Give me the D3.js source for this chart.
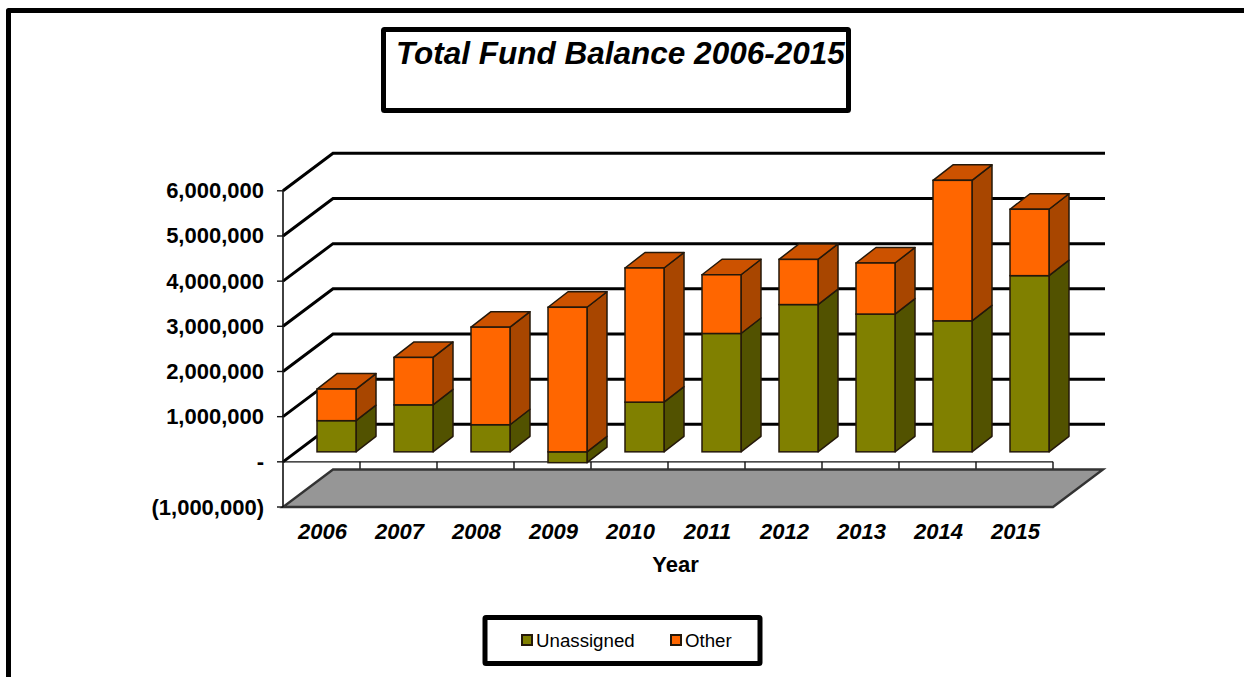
<!DOCTYPE html>
<html>
<head>
<meta charset="utf-8">
<script src="https://cdn.jsdelivr.net/npm/d3@7/dist/d3.min.js"></script>
<style>
  html, body { margin: 0; padding: 0; background: #fff; }
  svg { display: block; }
  text { font-family: "Liberation Sans", Arial, sans-serif; fill: #000; }
</style>
</head>
<body>
<svg id="chart" width="1244" height="677"></svg>
<script>
// Fund balance by year, in dollars
const years = ["2006","2007","2008","2009","2010","2011","2012","2013","2014","2015"];
const unassigned = [690000,1040000,600000,-240000,1100000,2620000,3260000,3050000,2900000,3900000];
const other = [700000,1050000,2160000,3200000,2970000,1300000,1000000,1130000,3110000,1470000];
const yTicks = [-1000000,0,1000000,2000000,3000000,4000000,5000000,6000000];
const seriesNames = ["Unassigned","Other"];
const titleText = "Total Fund Balance 2006-2015";
const xTitle = "Year";

const svg = d3.select("#chart");

// Front plane of the 3-D box
const x = d3.scaleBand().domain(years).range([283, 1053]);
const y = d3.scaleLinear().domain([-1000000, 6000000]).range([507, 190.8]);

// Box depth, bar plane offset inside the box, and depth of each bar
const wall = { dx: 50, dy: -37.5 };
const barPlane = { dx: 15, dy: -10 };
const barDepth = { dx: 20, dy: -15.5 };
const barWidth = 39;

const palette = {
  Unassigned: { front: "#808000", side: "#525200", top: "#666600" },
  Other: { front: "#FF6600", side: "#A84600", top: "#CC5200" }
};

const poly = pts => pts.map(p => p.join(",")).join(" ");

// Outer frame: only the top and left edges fall inside the page
svg.append("path")
  .attr("d", d3.line()([[8.5, 677], [8.5, 10.5], [1244, 10.5]]))
  .attr("fill", "none").attr("stroke", "#000").attr("stroke-width", 5)
  .attr("stroke-linejoin", "round");

// Title box
svg.append("rect").attr("x", 383.5).attr("y", 29.5).attr("width", 465).attr("height", 81)
  .attr("rx", 1).attr("fill", "#fff").attr("stroke", "#000").attr("stroke-width", 5);
svg.append("text").attr("x", 396).attr("y", 64)
  .attr("font-size", 31.5).attr("font-weight", "bold").attr("font-style", "italic")
  .text(titleText);

// Grey floor at the bottom of the value range
const floorY = y(-1000000);
svg.append("polygon")
  .attr("points", poly([
    [x.range()[0], floorY],
    [x.range()[1], floorY],
    [x.range()[1] + wall.dx, floorY + wall.dy],
    [x.range()[0] + wall.dx, floorY + wall.dy]
  ]))
  .attr("fill", "#969696").attr("stroke", "#333").attr("stroke-width", 2.4);

// Gridlines on the back wall and their diagonals on the side wall
const gridTicks = yTicks.filter(d => d >= 0);
svg.append("g").selectAll("path").data(gridTicks).join("path")
  .attr("d", d => d3.line()([
    [x.range()[0], y(d)],
    [x.range()[0] + wall.dx, y(d) + wall.dy],
    [x.range()[1] + wall.dx + 2, y(d) + wall.dy]
  ]))
  .attr("fill", "none").attr("stroke", "#000").attr("stroke-width", 3);

// Value axis
svg.append("line")
  .attr("x1", x.range()[0]).attr("x2", x.range()[0])
  .attr("y1", y(6000000)).attr("y2", y(-1000000))
  .attr("stroke", "#111").attr("stroke-width", 1.6);
svg.append("g").selectAll("line").data(yTicks).join("line")
  .attr("x1", x.range()[0] - 6).attr("x2", x.range()[0])
  .attr("y1", d => y(d)).attr("y2", d => y(d))
  .attr("stroke", "#111").attr("stroke-width", 1.4);

const fmt = d => d === 0 ? "-" : d < 0 ? "(" + d3.format(",")(-d) + ")" : d3.format(",")(d);
svg.append("g").selectAll("text").data(yTicks).join("text")
  .attr("x", 264).attr("y", d => y(d) + 7.5)
  .attr("text-anchor", "end")
  .attr("font-size", 22).attr("font-weight", "bold")
  .text(fmt);

// Category axis along the zero line
svg.append("line")
  .attr("x1", x.range()[0]).attr("x2", x.range()[1])
  .attr("y1", y(0)).attr("y2", y(0))
  .attr("stroke", "#111").attr("stroke-width", 1.4);
svg.append("g").selectAll("line").data(years).join("line")
  .attr("x1", d => x(d) + x.bandwidth()).attr("x2", d => x(d) + x.bandwidth())
  .attr("y1", y(0)).attr("y2", y(0) + 7)
  .attr("stroke", "#111").attr("stroke-width", 1.4);

svg.append("g").selectAll("text").data(years).join("text")
  .attr("x", d => x(d) + x.bandwidth() / 2 + 1)
  .attr("y", 539)
  .attr("text-anchor", "middle")
  .attr("font-size", 22).attr("font-weight", "bold").attr("font-style", "italic")
  .text(d => d);
svg.append("text").attr("x", 675.5).attr("y", 572).attr("text-anchor", "middle")
  .attr("font-size", 22).attr("font-weight", "bold").text(xTitle);

// One stacked 3-D column: front face, right side, and a top cap on the last segment
function drawSegment(g, left, v0, v1, colors, withTop) {
  const right = left + barWidth;
  const yLow = y(v0) + barPlane.dy;
  const yHigh = y(v1) + barPlane.dy;
  const edge = "#24180a";
  g.append("polygon")
    .attr("points", poly([
      [right, yLow], [right + barDepth.dx, yLow + barDepth.dy],
      [right + barDepth.dx, yHigh + barDepth.dy], [right, yHigh]
    ]))
    .attr("fill", colors.side).attr("stroke", edge).attr("stroke-width", 1.5)
    .attr("stroke-linejoin", "round");
  if (withTop) {
    g.append("polygon")
      .attr("points", poly([
        [left, yHigh], [right, yHigh],
        [right + barDepth.dx, yHigh + barDepth.dy], [left + barDepth.dx, yHigh + barDepth.dy]
      ]))
      .attr("fill", colors.top).attr("stroke", edge).attr("stroke-width", 1.5)
      .attr("stroke-linejoin", "round");
  }
  g.append("rect")
    .attr("x", left).attr("y", yHigh)
    .attr("width", barWidth).attr("height", yLow - yHigh)
    .attr("fill", colors.front).attr("stroke", edge).attr("stroke-width", 1.5);
}

years.forEach((year, i) => {
  const g = svg.append("g");
  const left = x(year) + x.bandwidth() / 2 + barPlane.dx - barWidth / 2;
  const u = unassigned[i];
  const o = other[i];
  if (u >= 0) {
    drawSegment(g, left, 0, u, palette.Unassigned, false);
    drawSegment(g, left, u, u + o, palette.Other, true);
  } else {
    // A negative unassigned balance hangs below the zero plane
    drawSegment(g, left, u, 0, palette.Unassigned, false);
    drawSegment(g, left, 0, o, palette.Other, true);
  }
});

// Legend
svg.append("rect").attr("x", 485).attr("y", 617.5).attr("width", 275).attr("height", 46)
  .attr("rx", 1).attr("fill", "#fff").attr("stroke", "#000").attr("stroke-width", 5);
const legendX = { Unassigned: 522, Other: 671 };
const legend = svg.append("g").selectAll("g").data(seriesNames).join("g");
legend.append("rect")
  .attr("x", d => legendX[d]).attr("y", 635)
  .attr("width", 10).attr("height", 10)
  .attr("fill", d => palette[d].front).attr("stroke", "#24180a").attr("stroke-width", 2);
legend.append("text")
  .attr("x", d => legendX[d] + 14).attr("y", 647)
  .attr("font-size", 18.7)
  .text(d => d);
</script>
</body>
</html>
